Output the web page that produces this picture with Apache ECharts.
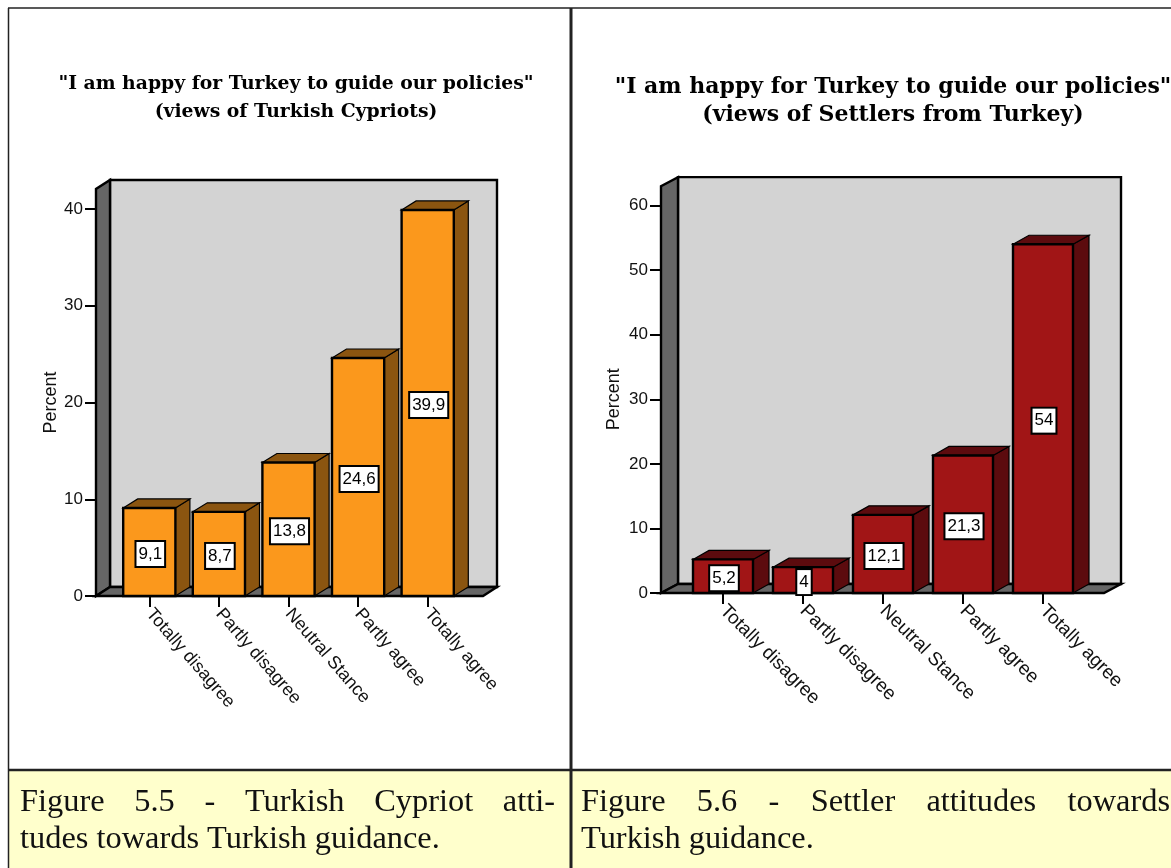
<!DOCTYPE html>
<html><head><meta charset="utf-8">
<style>html,body{margin:0;padding:0;background:#fff}#c{width:1171px;height:868px}</style>
<script src="https://cdn.jsdelivr.net/npm/echarts@6/dist/echarts.min.js"></script>
</head><body><div id="c"></div>
<script>
const categories = ['Totally disagree','Partly disagree','Neutral Stance','Partly agree','Totally agree'];
const cypriotValues = [9.1, 8.7, 13.8, 24.6, 39.9];
const settlerValues = [5.2, 4, 12.1, 21.3, 54];
const leftTitle = '"I am happy for Turkey to guide our policies"\n(views of Turkish Cypriots)';
const rightTitle = '"I am happy for Turkey to guide our policies"\n(views of Settlers from Turkey)';
const leftCaption = [['Figure','5.5','-','Turkish','Cypriot','atti-'], 'tudes towards Turkish guidance.'];
const rightCaption = [['Figure','5.6','-','Settler','attitudes','towards'], 'Turkish guidance.'];

const chart = echarts.init(document.getElementById('c'));
const capFont = '32.4px "Liberation Serif"';
const ctx = document.createElement('canvas').getContext('2d');
ctx.font = capFont;
function captionText(x, y, text){
  return {type:'text', z:5, style:{x, y, text, font:capFont, fill:'#111', verticalAlign:'middle'}};
}
function justified(words, x0, x1, y){
  const total = words.reduce((s,w)=>s+ctx.measureText(w).width,0);
  const gap = (x1-x0-total)/(words.length-1);
  let x=x0; const out=[];
  words.forEach(w=>{out.push(captionText(x,y,w)); x+=ctx.measureText(w).width+gap;});
  return out;
}
function hline(x1,x2,y,w){return {type:'line',z:4,shape:{x1,y1:y,x2,y2:y},style:{stroke:'#222',lineWidth:w}};}
function vline(x,y1,y2,w){return {type:'line',z:4,shape:{x1:x,y1,x2:x,y2},style:{stroke:'#222',lineWidth:w}};}

function wallRenderer(depthX, depthY, floorExtraL, floorExtraR, topValue){
  return function(params, api){
    const cs = params.coordSys;
    const y0 = api.coord([0,0])[1];
    const yt = api.coord([0,topValue])[1];
    const L = cs.x-floorExtraL, R = cs.x+cs.width+floorExtraR;
    const border = {stroke:'#000', lineWidth:2.4, lineJoin:'miter'};
    return {type:'group', children:[
      {type:'rect', shape:{x:L+depthX,y:yt-depthY,width:R-L,height:y0-yt}, style:{fill:'#d3d3d3',...border}},
      {type:'polygon', shape:{points:[[L,y0],[L,yt],[L+depthX,yt-depthY],[L+depthX,y0-depthY]]}, style:{fill:'#666666',...border}},
      {type:'polygon', shape:{points:[[L,y0],[L+depthX,y0-depthY],[R+depthX,y0-depthY],[R,y0]]}, style:{fill:'#666666',...border}}
    ]};
  };
}
function barRenderer(front, side, depthX, depthY, labelDy){
  return function(params, api){
    const cat = api.value(0), val = api.value(1);
    const p = api.coord([cat,val]), p0 = api.coord([cat,0]);
    const w = api.size([1,0])[0]*0.75;
    const l = p[0]-w/2, r = p[0]+w/2, t = p[1], b = p0[1];
    const thin = {stroke:'#000', lineWidth:1.2, lineJoin:'miter'};
    const bold = {stroke:'#000', lineWidth:2.4, lineJoin:'miter'};
    const label = String(val).replace('.',',');
    return {type:'group', children:[
      {type:'polygon', shape:{points:[[r,t],[r+depthX,t-depthY],[r+depthX,b-depthY],[r,b]]}, style:{fill:side,...thin}},
      {type:'polygon', shape:{points:[[l,t],[l+depthX,t-depthY],[r+depthX,t-depthY],[r,t]]}, style:{fill:side,...thin}},
      {type:'rect', shape:{x:l,y:t,width:w,height:b-t}, style:{fill:front,...bold}},
      {type:'text', z2:10, style:{x:p[0]+1, y:(t+b)/2+labelDy, text:label, align:'center', verticalAlign:'middle',
        font:'17px "Liberation Sans"', fill:'#000', backgroundColor:'#fff', borderColor:'#000', borderWidth:2, padding:[4,2,3,2]}}
    ]};
  };
}
function axes(i, max){
  return {
    x:{type:'category', gridIndex:i, data:categories,
      axisLine:{show:false}, axisTick:{show:true, alignWithLabel:true, length:11, lineStyle:{color:'#000',width:2}},
      axisLabel:{interval:0, rotate:i===0?-49:-45, margin:15, color:'#111', fontFamily:'Liberation Sans', fontSize:i===0?18:19}},
    y:{type:'value', gridIndex:i, min:0, max, interval:10, offset:i===0?18.5:22, name:'Percent', nameLocation:'middle', nameGap:i===0?29:38,
      nameTextStyle:{color:'#111', fontFamily:'Liberation Sans', fontSize:18},
      axisLine:{show:true, lineStyle:{color:'#000',width:2}}, axisTick:{show:true,length:11,lineStyle:{color:'#000',width:2}},
      splitLine:{show:false}, axisLabel:{color:'#111', fontFamily:'Liberation Sans', fontSize:17, margin:13}}
  };
}
const a0 = axes(0,40), a1 = axes(1,60);
const graphics = [
  {type:'rect', z:0, shape:{x:9,y:771,width:561,height:97}, style:{fill:'#ffffcc'}},
  {type:'rect', z:0, shape:{x:572,y:771,width:599,height:97}, style:{fill:'#ffffcc'}},
  hline(8,1171,8,1.5), vline(8.5,8,868,1.5), vline(571,8,868,3), hline(8,1171,770,2.5),
  ...justified(leftCaption[0],20,555,802), captionText(20,839,leftCaption[1]),
  ...justified(rightCaption[0],581,1170,802), captionText(581,839,rightCaption[1])
];
chart.setOption({
  animation:false, backgroundColor:'#fff',
  title:[
    {text:leftTitle, left:291, top:65, textAlign:'center', textStyle:{fontFamily:'DejaVu Serif', fontWeight:'bold', fontSize:18.8, lineHeight:28, color:'#000'}},
    {text:rightTitle, left:888, top:68, textAlign:'center', textStyle:{fontFamily:'DejaVu Serif', fontWeight:'bold', fontSize:22, lineHeight:28, color:'#000'}}
  ],
  grid:[
    {left:114.5, width:348, top:209, height:387},
    {left:683, width:400, top:205.5, height:387.5}
  ],
  xAxis:[a0.x,a1.x], yAxis:[a0.y,a1.y],
  graphic:{elements:graphics},
  series:[
    {type:'custom', xAxisIndex:0, yAxisIndex:0, clip:false, z:1, silent:true, data:[[0,0]], renderItem:wallRenderer(14,9,18.5,20.5,42.07)},
    {type:'custom', xAxisIndex:0, yAxisIndex:0, clip:false, z:3, data:cypriotValues.map((v,i)=>[i,v]), encode:{x:0,y:1}, renderItem:barRenderer('#fb981c','#8b5510',14.5,9,2)},
    {type:'custom', xAxisIndex:1, yAxisIndex:1, clip:false, z:1, silent:true, data:[[0,0]], renderItem:wallRenderer(17,9,22,21,63)},
    {type:'custom', xAxisIndex:1, yAxisIndex:1, clip:false, z:3, data:settlerValues.map((v,i)=>[i,v]), encode:{x:0,y:1}, renderItem:barRenderer('#a11516','#5c0b0e',16,9,2)}
  ]
});
</script></body></html>
